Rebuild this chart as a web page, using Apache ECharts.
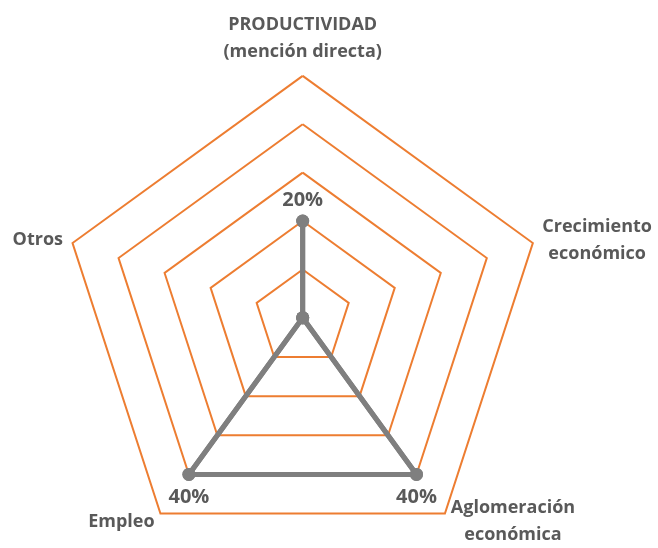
<!DOCTYPE html>
<html>
<head>
<meta charset="utf-8">
<script src="https://cdn.jsdelivr.net/npm/echarts@6/dist/echarts.min.js"></script>
<style>
  html, body { margin: 0; padding: 0; background: #fff; }
  #chart { width: 658px; height: 548px; }
</style>
</head>
<body>
<div id="chart"></div>
<script>
// indicadores en el orden en que ECharts los coloca (sentido antihorario desde arriba)
var categorias = [
  "PRODUCTIVIDAD\n(mención directa)",
  "Otros",
  "Empleo",
  "Aglomeración\neconómica",
  "Crecimiento\neconómico"
];
var valores = [20, 0, 40, 40, 0]; // porcentaje
var maximo = 50;

var gris = "#7f7f7f";
var texto = "#595959";
var naranja = "#ed7d31";

var chart = echarts.init(document.getElementById("chart"));

var option = {
  backgroundColor: "#fff",
  textStyle: { fontFamily: "Open Sans" },
  radar: {
    center: ["46%", "58%"],
    radius: 242,
    shape: "polygon",
    splitNumber: 5,
    indicator: categorias.map(function (c) {
      return { name: c, min: 0, max: maximo };
    }),
    axisName: {
      color: texto,
      fontSize: 18,
      fontWeight: "bold",
      fontFamily: "Open Sans",
      lineHeight: 27,
      // cada línea centrada dentro del bloque
      formatter: function (name) {
        return name.split("\n").map(function (l) {
          return "{c|" + l + "}";
        }).join("\n");
      },
      rich: {
        c: {
          align: "center",
          color: texto,
          fontSize: 18,
          fontWeight: "bold",
          fontFamily: "Open Sans",
          lineHeight: 27
        }
      }
    },
    nameGap: 10,
    axisLine: { show: false },
    axisTick: { show: false },
    axisLabel: { show: false },
    splitArea: { show: false },
    splitLine: { lineStyle: { color: naranja, width: 2 } }
  },
  series: [
    {
      type: "radar",
      symbol: "circle",
      symbolSize: 13,
      silent: true,
      lineStyle: { color: gris, width: 5 },
      itemStyle: { color: gris },
      data: [
        {
          value: valores,
          label: {
            show: true,
            position: "top",
            distance: 4,
            color: texto,
            fontSize: 20,
            fontWeight: "bold",
            formatter: function (p) {
              return p.value > 0 && p.value === valores[0] ? p.value + "%" : "";
            }
          }
        },
        {
          value: valores,
          label: {
            show: true,
            position: "bottom",
            distance: 6,
            color: texto,
            fontSize: 20,
            fontWeight: "bold",
            formatter: function (p) {
              return p.value > 0 && p.value !== valores[0] ? p.value + "%" : "";
            }
          }
        }
      ]
    }
  ]
};

chart.setOption(option);
</script>
</body>
</html>
